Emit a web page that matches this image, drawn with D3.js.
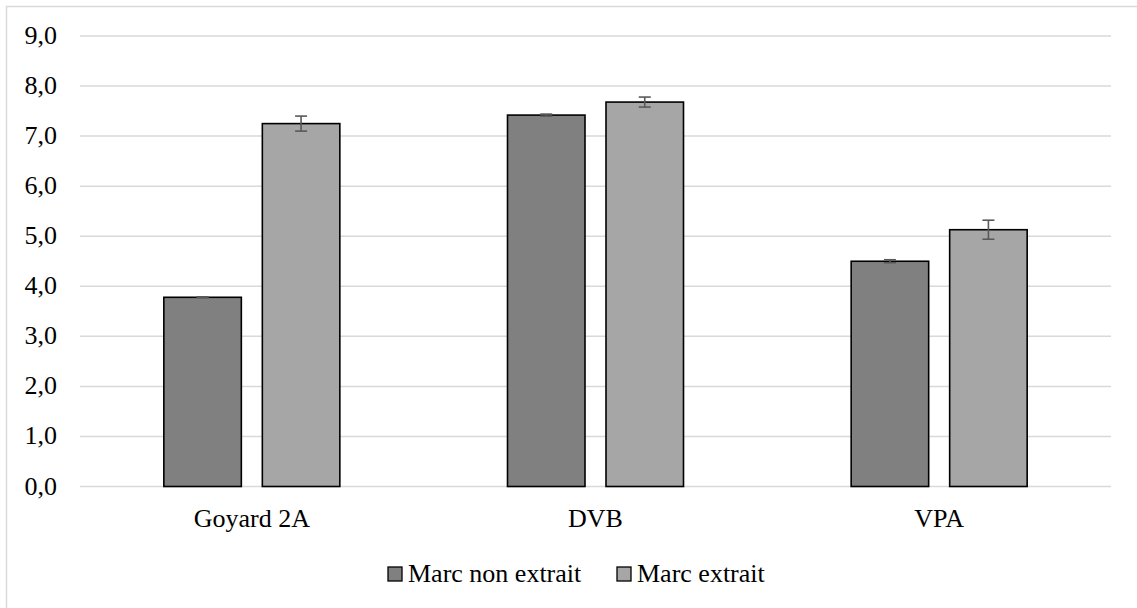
<!DOCTYPE html>
<html><head><meta charset="utf-8">
<script src="https://cdn.jsdelivr.net/npm/d3@7"></script>
<style>body{margin:0;background:#fff}svg{display:block}</style>
</head><body>
<script>
const categories = ["Goyard 2A", "DVB", "VPA"];
const seriesNames = ["Marc non extrait", "Marc extrait"];
const valuesNonExtrait = [3.78, 7.42, 4.50];
const valuesExtrait = [7.25, 7.68, 5.13];
const errNonExtrait = [0.01, 0.02, 0.03];
const errExtrait = [0.15, 0.10, 0.19];
const yTicks = [0, 1, 2, 3, 4, 5, 6, 7, 8, 9];
const colors = ["#808080", "#a6a6a6"];

(function () {
const W = 1137, H = 608;
const svg = d3.select("body").append("svg").attr("width", W).attr("height", H);
svg.append("rect").attr("x", 6.5).attr("y", 6.5).attr("width", 1140).attr("height", 620)
  .attr("fill", "#fff").attr("stroke", "#d9d9d9").attr("stroke-width", 1.5);

const pLeft = 80, pRight = 1111, pTop = 36, pBottom = 486.5;
const y = d3.scaleLinear().domain([0, 9]).range([pBottom, pTop]);
const x0 = d3.scaleBand().domain(categories).range([pLeft, pRight]).padding(0);
const groupW = 176;
const x1 = d3.scaleBand().domain(seriesNames).range([0, groupW]).paddingInner(0.2132).paddingOuter(0);
const fs = 26;

function addText(x, yy, s, anchor) {
  svg.append("text").attr("x", x).attr("y", yy)
    .style("font-family", "\"Liberation Serif\"")
    .attr("font-size", fs).attr("text-anchor", anchor).attr("fill", "#000").text(s);
}

yTicks.forEach(t => {
  svg.append("line").attr("x1", pLeft).attr("x2", pRight).attr("y1", y(t)).attr("y2", y(t))
    .attr("stroke", "#d9d9d9").attr("stroke-width", 1.5);
});
yTicks.forEach(t => addText(57, y(t) + 8, d3.format(".1f")(t).replace(".", ","), "end"));

const data = [];
categories.forEach((c, i) => {
  data.push({cat: c, s: seriesNames[0], v: valuesNonExtrait[i], e: errNonExtrait[i], col: colors[0]});
  data.push({cat: c, s: seriesNames[1], v: valuesExtrait[i], e: errExtrait[i], col: colors[1]});
});
const bx = d => x0(d.cat) + (x0.bandwidth() - groupW) / 2 + x1(d.s);

svg.append("g").selectAll("rect").data(data).join("rect")
  .attr("x", d => bx(d)).attr("y", d => y(d.v))
  .attr("width", x1.bandwidth()).attr("height", d => y(0) - y(d.v))
  .attr("fill", d => d.col).attr("stroke", "#000").attr("stroke-width", 1.6);

const eb = svg.append("g").attr("stroke", "#595959").attr("stroke-width", 1.6);
data.forEach(d => {
  const cx = bx(d) + x1.bandwidth() / 2;
  const y1 = y(d.v + d.e), y2 = y(d.v - d.e);
  eb.append("line").attr("x1", cx).attr("x2", cx).attr("y1", y1).attr("y2", y2);
  eb.append("line").attr("x1", cx - 6).attr("x2", cx + 6).attr("y1", y1).attr("y2", y1);
  eb.append("line").attr("x1", cx - 6).attr("x2", cx + 6).attr("y1", y2).attr("y2", y2);
});

categories.forEach(c => addText(x0(c) + x0.bandwidth() / 2, 526.5, c, "middle"));

const legX = [388, 617];
seriesNames.forEach((s, i) => {
  svg.append("rect").attr("x", legX[i]).attr("y", 567).attr("width", 14).attr("height", 14)
    .attr("fill", colors[i]).attr("stroke", "#000").attr("stroke-width", 1.3);
  addText(legX[i] + 20, 582, s, "start");
});
})();
</script>
</body></html>
